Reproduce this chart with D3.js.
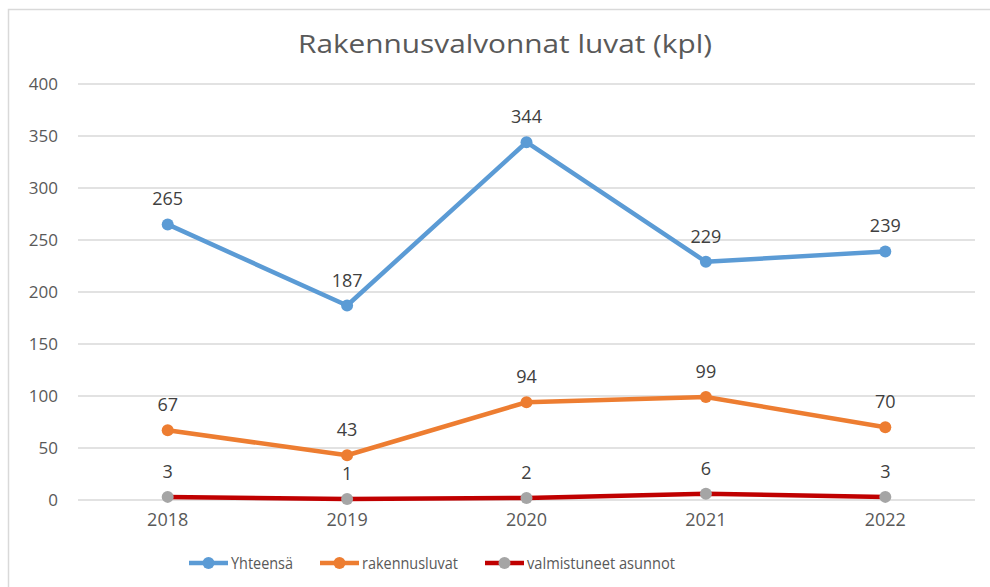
<!DOCTYPE html>
<html>
<head>
<meta charset="utf-8">
<script src="https://cdn.jsdelivr.net/npm/d3@7"></script>
<style>
  body { margin: 0; background: #fff; }
  svg { display: block; font-family: "Open Sans", "Noto Sans", sans-serif; }
</style>
</head>
<body>
<div id="chart"></div>
<script>
// Data
const years = ["2018", "2019", "2020", "2021", "2022"];
const yhteensa = [265, 187, 344, 229, 239];
const rakennusluvat = [67, 43, 94, 99, 70];
const valmistuneet = [3, 1, 2, 6, 3];
const yTicks = [0, 50, 100, 150, 200, 250, 300, 350, 400];

const series = [
  { name: "Yhteensä", values: yhteensa, line: "#5B9BD5", marker: "#5B9BD5" },
  { name: "rakennusluvat", values: rakennusluvat, line: "#ED7D31", marker: "#ED7D31" },
  { name: "valmistuneet asunnot", values: valmistuneet, line: "#C00000", marker: "#A5A5A5" }
];

const width = 990;
const height = 587;

const svg = d3.select("#chart")
  .append("svg")
  .attr("width", width)
  .attr("height", height);

// chart frame
svg.append("rect")
  .attr("x", 8.5)
  .attr("y", 9.5)
  .attr("width", 1000)
  .attr("height", 600)
  .attr("fill", "none")
  .attr("stroke", "#d9d9d9")
  .attr("stroke-width", 1.5);

const x = d3.scaleBand().domain(years).range([78, 975]);
const y = d3.scaleLinear().domain([0, 400]).range([500, 84]);

// title
svg.append("text")
  .attr("x", 505)
  .attr("y", 53)
  .attr("text-anchor", "middle")
  .attr("font-size", 25)
  .attr("textLength", 414)
  .attr("lengthAdjust", "spacingAndGlyphs")
  .attr("fill", "#595959")
  .text("Rakennusvalvonnat luvat (kpl)");

// gridlines
svg.append("g")
  .selectAll("line")
  .data(yTicks)
  .enter().append("line")
  .attr("x1", 78)
  .attr("x2", 975)
  .attr("y1", d => y(d))
  .attr("y2", d => y(d))
  .attr("stroke", "#d9d9d9")
  .attr("stroke-width", 1.5);

// y axis labels
const yAxis = svg.append("g")
  .attr("transform", "translate(58,0)")
  .call(d3.axisLeft(y).tickValues(yTicks).tickSize(0).tickPadding(0));
yAxis.select(".domain").remove();
yAxis.attr("font-size", 17).attr("font-family", null);
yAxis.selectAll("text").attr("fill", "#595959");

// x axis labels
const xAxis = svg.append("g")
  .attr("transform", "translate(0,513)")
  .call(d3.axisBottom(x).tickSize(0).tickPadding(0));
xAxis.select(".domain").remove();
xAxis.attr("font-size", 18).attr("font-family", null);
xAxis.selectAll("text").attr("fill", "#595959");

const cx = d => x(d) + x.bandwidth() / 2;

const line = d3.line()
  .x((d, i) => cx(years[i]))
  .y(d => y(d));

series.forEach(s => {
  const g = svg.append("g");
  g.append("path")
    .datum(s.values)
    .attr("d", line)
    .attr("fill", "none")
    .attr("stroke", s.line)
    .attr("stroke-width", 4.5)
    .attr("stroke-linejoin", "round")
    .attr("stroke-linecap", "round");

  g.selectAll("circle")
    .data(s.values)
    .enter().append("circle")
    .attr("cx", (d, i) => cx(years[i]))
    .attr("cy", d => y(d))
    .attr("r", 6)
    .attr("fill", s.marker);

  g.selectAll("text")
    .data(s.values)
    .enter().append("text")
    .attr("x", (d, i) => cx(years[i]))
    .attr("y", d => y(d) - 19)
    .attr("text-anchor", "middle")
    .attr("font-size", 18)
    .attr("fill", "#404040")
    .text(d => d);
});

// legend
const legendX = [189, 320, 485];
const legendW = [62, 96, 148]; // text widths in the original
const legend = svg.append("g");
series.forEach((s, i) => {
  const lx = legendX[i];
  legend.append("line")
    .attr("x1", lx)
    .attr("x2", lx + 39)
    .attr("y1", 563)
    .attr("y2", 563)
    .attr("stroke", s.line)
    .attr("stroke-width", 4.5);
  legend.append("circle")
    .attr("cx", lx + 19.5)
    .attr("cy", 563)
    .attr("r", 6)
    .attr("fill", s.marker);
  legend.append("text")
    .attr("x", lx + 42)
    .attr("y", 569)
    .attr("font-size", 17)
    .attr("textLength", legendW[i])
    .attr("lengthAdjust", "spacingAndGlyphs")
    .attr("fill", "#595959")
    .text(s.name);
});
</script>
</body>
</html>
